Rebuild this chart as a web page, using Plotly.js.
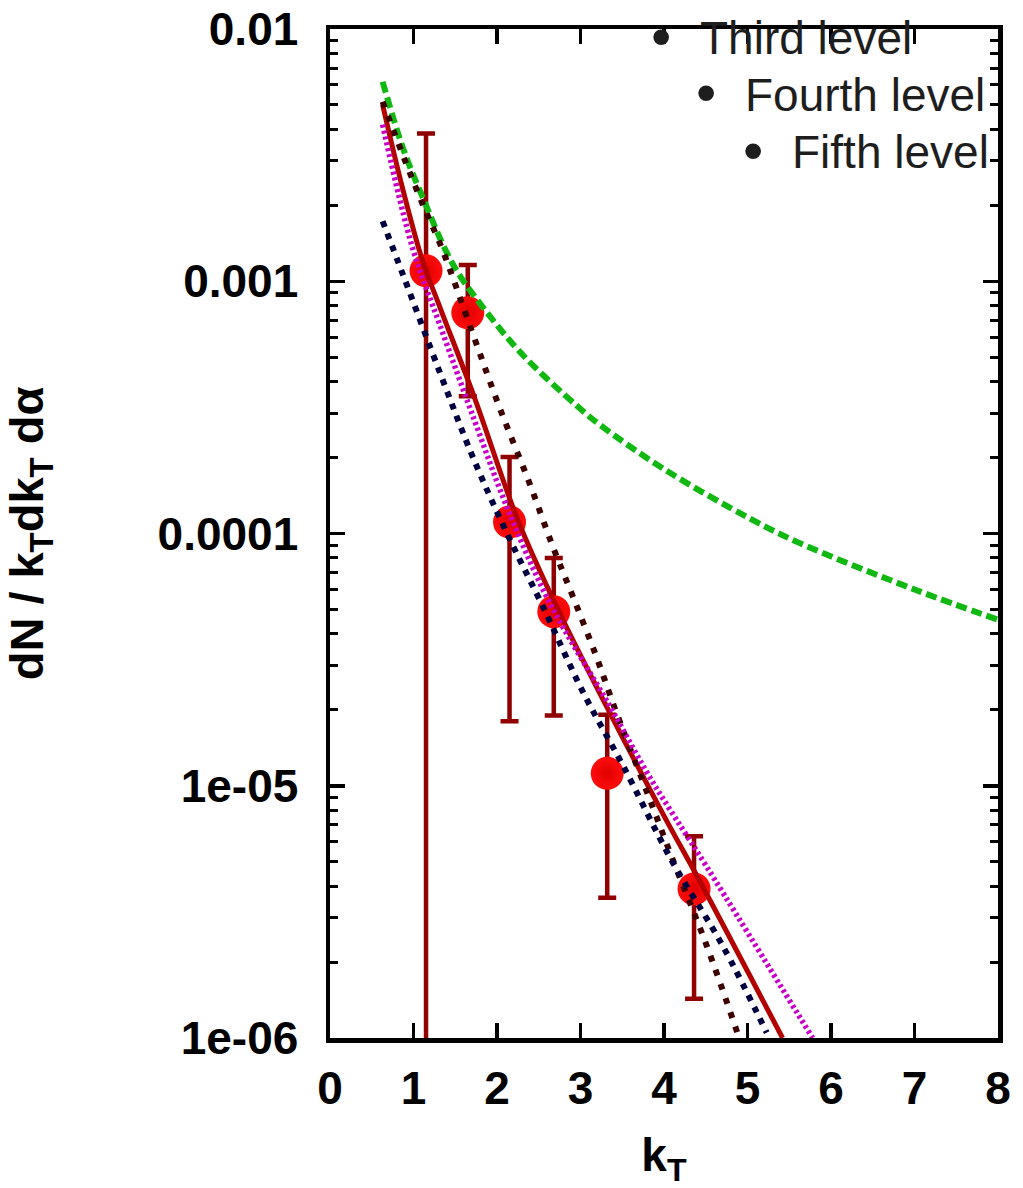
<!DOCTYPE html>
<html>
<head>
<meta charset="utf-8">
<script src="https://cdn.plot.ly/plotly-3.0.1.min.js"></script>
<style>
  html, body { margin: 0; padding: 0; background: #ffffff; }
  #chart { width: 1023px; height: 1188px; }
</style>
</head>
<body>
<div id="chart"></div>
<script>
// ---- data ----
const dataX      = [1.15, 1.65, 2.15, 2.68, 3.32, 4.36];
const dataY      = [1.1e-3, 7.5e-4, 1.11e-4, 4.9e-5, 1.12e-5, 3.9e-6];
const dataErrUp  = [2.75e-3, 4.1e-4, 9.0e-5, 3.1e-5, 7.9e-6, 2.4e-6];
const dataErrLow = [1.1e-3, 4.0e-4, 9.3e-5, 3.0e-5, 7.6e-6, 2.47e-6];

const greenX = [0.63, 0.87, 1.11, 1.47, 1.83, 2.31, 2.96, 3.23, 4.0, 5.02, 5.62, 7.0, 8.0];
const greenY = [6.18e-3, 3.4e-3, 2.15e-3, 1.17e-3, 7.9e-4, 5.1e-4, 3.2e-4, 2.7e-4, 1.8e-4, 1.15e-4, 9.18e-5, 6.0e-5, 4.55e-5];

const redX = [0.63, 0.87, 1.11, 1.32, 1.73, 2.25, 2.73, 3.35, 4.0, 4.45, 5.42];
const redY = [5.01e-3, 2.33e-3, 1.2e-3, 7.83e-4, 3.46e-4, 1.13e-4, 4.99e-5, 1.95e-5, 7.6e-6, 4.06e-6, 1.0e-6];

const brownX = [0.63, 0.87, 1.11, 1.34, 1.71, 2.03, 2.39, 2.67, 2.91, 3.19, 3.43, 3.86, 4.10, 4.51, 4.90];
const brownY = [5.15e-3, 3.18e-3, 2.02e-3, 1.35e-3, 6.19e-4, 3.16e-4, 1.58e-4, 8.85e-5, 5.61e-5, 3.25e-5, 1.95e-5, 8.32e-6, 5.14e-6, 2.33e-6, 1.0e-6];

const navyX = [0.63, 0.87, 1.32, 1.71, 2.12, 2.55, 3.03, 3.51, 4.10, 4.70, 5.23];
const navyY = [1.73e-3, 1.07e-3, 4.31e-4, 2.01e-4, 1.0e-4, 5.13e-5, 2.35e-5, 1.2e-5, 5.0e-6, 2.33e-6, 1.05e-6];

const magentaX = [0.63, 0.99, 1.32, 1.73, 2.12, 2.63, 3.35, 3.83, 4.51, 5.78];
const magentaY = [4.18e-3, 1.35e-3, 6.65e-4, 2.81e-4, 1.27e-4, 5.32e-5, 2.07e-5, 1.08e-5, 4.78e-6, 1.0e-6];

const xTickVals = [0, 1, 2, 3, 4, 5, 6, 7, 8];
const xTickText = ["0", "1", "2", "3", "4", "5", "6", "7", "8"];
const yTickVals = [1e-6, 1e-5, 1e-4, 1e-3, 1e-2];
const yTickText = ["1e-06", "1e-05", "0.0001", "0.001", "0.01"];

const legendLabels = ["Third level", "Fourth level", "Fifth level"];

// ---- traces ----
const FONT = "Liberation Sans, Arial, sans-serif";

const traces = [
  {
    x: dataX, y: dataY, type: "scatter", mode: "markers",
    marker: { color: "#ff0c0c", size: 33, line: { width: 0 },
              gradient: { type: "radial", color: "#e00000" } },
    error_y: { type: "data", symmetric: false, array: dataErrUp, arrayminus: dataErrLow,
               color: "#900000", thickness: 4.5, width: 9 }
  },
  { x: greenX, y: greenY, type: "scatter", mode: "lines",
    line: { color: "#12b812", width: 6, dash: "11px,5px", shape: "spline", smoothing: 1 } },
  { x: redX, y: redY, type: "scatter", mode: "lines",
    line: { color: "#b30000", width: 5, shape: "spline", smoothing: 1 } },
  { x: brownX, y: brownY, type: "scatter", mode: "lines",
    line: { color: "#3d0000", width: 6, dash: "6px,9px", shape: "spline", smoothing: 1 } },
  { x: navyX, y: navyY, type: "scatter", mode: "lines",
    line: { color: "#000040", width: 6, dash: "6px,7px", shape: "spline", smoothing: 1 } },
  { x: magentaX, y: magentaY, type: "scatter", mode: "lines",
    line: { color: "#c800c8", width: 5.5, dash: "3px,3px", shape: "spline", smoothing: 1 } }
];

// legend-like bullet lines (annotations)
const annX = [698, 743, 790];
const annY = [38, 95, 152];
const annotations = [];
legendLabels.forEach((t, i) => {
  annotations.push({
    xref: "paper", yref: "paper",
    x: (annX[i] - 330) / (998 - 330), y: 1 - (annY[i] - 29) / (1038 - 29),
    xanchor: "left", yanchor: "middle",
    text: t, showarrow: false,
    font: { family: FONT, size: 46, color: "#1e1e1e" }
  });
  annotations.push({
    xref: "paper", yref: "paper",
    x: (annX[i] - 37 - 330) / (998 - 330), y: 1 - (annY[i] - 3 - 29) / (1038 - 29),
    xanchor: "center", yanchor: "middle",
    text: "•", showarrow: false,
    font: { family: FONT, size: 58, color: "#1e1e1e" }
  });
});

const axisCommon = {
  showline: true, linecolor: "black", linewidth: 4.5, mirror: "ticks",
  ticks: "inside", tickcolor: "black", tickwidth: 3.5, ticklen: 15,
  showgrid: false, zeroline: false,
  tickfont: { family: FONT, size: 46, color: "black", weight: "bold" }
};

const layout = {
  width: 1023, height: 1188,
  paper_bgcolor: "white", plot_bgcolor: "white",
  margin: { l: 330, r: 25, t: 29, b: 150 },
  showlegend: false,
  xaxis: Object.assign({}, axisCommon, {
    range: [0, 8], tickmode: "array", tickvals: xTickVals, ticktext: xTickText,
    ticklabelstandoff: 6,
    title: { text: "k<sub>T</sub>", standoff: 42,
             font: { family: FONT, size: 46, color: "black", weight: "bold" } }
  }),
  yaxis: Object.assign({}, axisCommon, {
    type: "log", range: [-6, -2], tickmode: "array", tickvals: yTickVals, ticktext: yTickText,
    ticklabelstandoff: 18,
    minor: { ticks: "inside", ticklen: 8, tickwidth: 3, tickcolor: "black", dtick: "D1", showgrid: false },
    title: { text: "dN / k<sub>T</sub>dk<sub>T</sub> dα", standoff: 104,
             font: { family: FONT, size: 47, color: "black", weight: "bold" } }
  }),
  annotations: annotations
};

Plotly.newPlot("chart", traces, layout, { staticPlot: true, displayModeBar: false });
</script>
</body>
</html>
